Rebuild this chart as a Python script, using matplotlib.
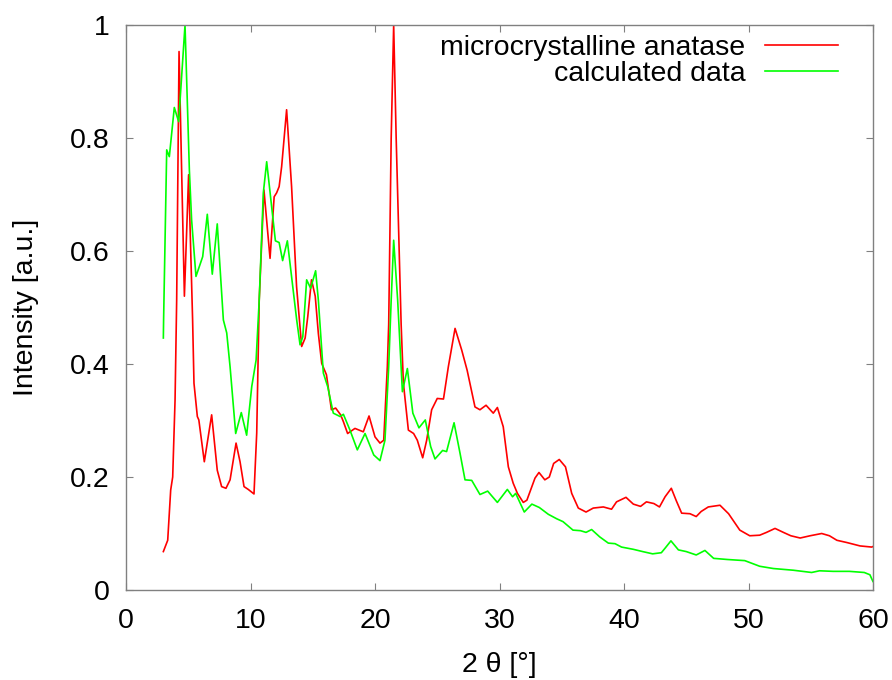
import matplotlib
matplotlib.use("Agg")
import matplotlib.pyplot as plt

plt.rcParams['font.family'] = ['Liberation Sans', 'DejaVu Sans']

# microcrystalline anatase (measured)
red_x = [3.0, 3.35, 3.59, 3.75, 3.94, 4.07, 4.26, 4.69, 5.03, 5.35, 5.46, 5.73, 5.85,
         6.29, 6.88, 7.33, 7.68, 8.03, 8.36, 8.84, 9.16, 9.48, 9.82, 10.28, 10.5, 10.7,
         11.08, 11.57, 11.9, 12.1, 12.3, 12.5, 12.9, 13.3, 13.7, 14.11, 14.39, 14.6,
         14.9, 15.2, 15.45, 15.72, 16.1, 16.5, 16.84, 17.24, 17.46, 17.8, 18.39, 19.06,
         19.52, 20.0, 20.4, 20.7, 20.99, 21.1, 21.3, 21.5, 21.7, 22.1, 22.28, 22.68,
         23.1, 23.4, 23.83, 24.15, 24.55, 25.0, 25.5, 25.89, 26.43, 26.96, 27.4, 28.03,
         28.43, 28.92, 29.5, 29.83, 30.3, 30.71, 31.1, 31.44, 31.91, 32.2, 32.85, 33.17,
         33.64, 34.0, 34.35, 34.8, 35.3, 35.8, 36.33, 36.95, 37.53, 38.34, 39.0, 39.4,
         40.16, 40.75, 41.33, 41.8, 42.4, 42.85, 43.3, 43.8, 44.2, 44.63, 45.3, 45.8,
         46.2, 46.77, 47.71, 48.4, 49.3, 50.1, 50.9, 51.45, 52.13, 52.8, 53.4, 54.15,
         54.95, 55.88, 56.5, 57.1, 57.9, 58.96, 59.9, 60.0]
red_y = [0.068, 0.088, 0.177, 0.2, 0.336, 0.513, 0.953, 0.52, 0.735, 0.478, 0.366, 0.307, 0.301,
         0.227, 0.31, 0.212, 0.183, 0.18, 0.195, 0.26, 0.227, 0.183, 0.178, 0.17, 0.278, 0.513,
         0.708, 0.587, 0.696, 0.703, 0.714, 0.749, 0.85, 0.714, 0.537, 0.431, 0.446, 0.484,
         0.549, 0.52, 0.454, 0.401, 0.381, 0.319, 0.322, 0.31, 0.298, 0.277, 0.286, 0.28,
         0.308, 0.271, 0.26, 0.265, 0.395, 0.47, 0.8, 1.0, 0.8, 0.47, 0.366, 0.283,
         0.277, 0.265, 0.234, 0.265, 0.319, 0.339, 0.338, 0.395, 0.463, 0.425, 0.389, 0.324,
         0.319, 0.327, 0.313, 0.323, 0.289, 0.218, 0.189, 0.171, 0.155, 0.159, 0.198, 0.208,
         0.195, 0.2, 0.224, 0.231, 0.218, 0.171, 0.145, 0.138, 0.145, 0.147, 0.143, 0.156,
         0.164, 0.152, 0.148, 0.156, 0.153, 0.147, 0.165, 0.18, 0.158, 0.136, 0.135, 0.130,
         0.139, 0.147, 0.150, 0.135, 0.106, 0.096, 0.097, 0.102, 0.109, 0.102, 0.096, 0.092,
         0.096, 0.1, 0.096, 0.088, 0.084, 0.078, 0.076, 0.077]

# calculated data (measured)
green_x = [3.0, 3.02, 3.27, 3.48, 3.88, 4.23, 4.74, 5.09, 5.27, 5.62, 6.16, 6.53, 6.93, 7.33, 7.82,
           8.09, 8.36, 8.81, 9.26, 9.69, 10.1, 10.45, 10.7, 11.03, 11.3, 11.7, 12.0, 12.3,
           12.58, 12.96, 13.71, 13.98, 14.2, 14.51, 14.83, 15.23, 15.45, 15.85, 16.2, 16.65,
           17.2, 17.46, 17.99, 18.58, 19.2, 19.9, 20.4, 20.8, 21.1, 21.3, 21.5, 21.82, 22.2,
           22.6, 23.04, 23.53, 24.04, 24.47, 24.82, 25.43, 25.75, 26.35, 26.83, 27.23, 27.77,
           28.43, 29.05, 29.83, 30.63, 31.05, 31.3, 31.99, 32.6, 33.2, 33.92, 34.6, 35.1,
           35.9, 36.5, 36.95, 37.4, 38.05, 38.74, 39.28, 39.8, 40.75, 41.5, 42.3, 43.0, 43.3,
           43.77, 44.37, 45.0, 45.8, 46.5, 47.2, 48.3, 49.7, 50.9, 52.0, 53.6, 55.07, 55.7,
           56.8, 58.1, 59.3, 59.75, 60.0]
green_y = [0.446, 0.478, 0.779, 0.767, 0.854, 0.829, 1.0, 0.743, 0.655, 0.555, 0.59, 0.665, 0.559, 0.648, 0.478,
           0.455, 0.395, 0.277, 0.314, 0.274, 0.36, 0.407, 0.513, 0.703, 0.758, 0.678, 0.618, 0.615,
           0.583, 0.618, 0.478, 0.434, 0.448, 0.549, 0.534, 0.565, 0.513, 0.384, 0.36, 0.313,
           0.307, 0.311, 0.283, 0.248, 0.277, 0.239, 0.229, 0.265, 0.395, 0.513, 0.619, 0.513, 0.351,
           0.392, 0.313, 0.287, 0.301, 0.254, 0.232, 0.247, 0.245, 0.296, 0.242, 0.195, 0.194,
           0.169, 0.175, 0.155, 0.178, 0.165, 0.171, 0.138, 0.152, 0.146, 0.134, 0.126, 0.121,
           0.106, 0.105, 0.102, 0.107, 0.094, 0.083, 0.082, 0.076, 0.072, 0.068, 0.064, 0.066, 0.074,
           0.087, 0.071, 0.068, 0.062, 0.07, 0.056, 0.054, 0.052, 0.042, 0.038, 0.035, 0.031, 0.034,
           0.033, 0.033, 0.031, 0.027, 0.015]

x_ticks = [0, 10, 20, 30, 40, 50, 60]
y_ticks = [0, 0.2, 0.4, 0.6, 0.8, 1.0]
y_ticklabels = ["0", "0.2", "0.4", "0.6", "0.8", "1"]

FS = 20.5
fig = plt.figure(figsize=(8.92, 6.8), dpi=100)
ax = fig.add_axes([126/892, 90/680, 747/892, 565/680])

ax.plot(red_x, red_y, color='#ff0000', lw=1.2, label='microcrystalline anatase')
ax.plot(green_x, green_y, color='#00ff00', lw=1.2, label='calculated data')

ax.set_xlim(0, 60)
ax.set_ylim(0, 1)
ax.set_xticks(x_ticks)
ax.set_xticklabels([str(t) for t in x_ticks])
ax.set_yticks(y_ticks)
ax.set_yticklabels(y_ticklabels)
ax.tick_params(direction='in', length=5, width=0.8, color='#808080',
               top=True, right=True, labelsize=FS)
ax.tick_params(axis='x', pad=13)
ax.tick_params(axis='y', pad=12)
for s in ax.spines.values():
    s.set_color('#808080')
    s.set_linewidth(1.0)

ax.set_xlabel('2 θ [°]', fontsize=FS, labelpad=13)
ax.set_ylabel('Intensity [a.u.]', fontsize=FS, labelpad=22)

ax.legend(loc='upper right', bbox_to_anchor=(838/892, (680-35)/680),
          bbox_transform=fig.transFigure, frameon=False, markerfirst=False,
          fontsize=FS, handlelength=2.55, handletextpad=0.7, labelspacing=0.0,
          borderpad=0, borderaxespad=0)

fig.savefig('out.png', dpi=100)
